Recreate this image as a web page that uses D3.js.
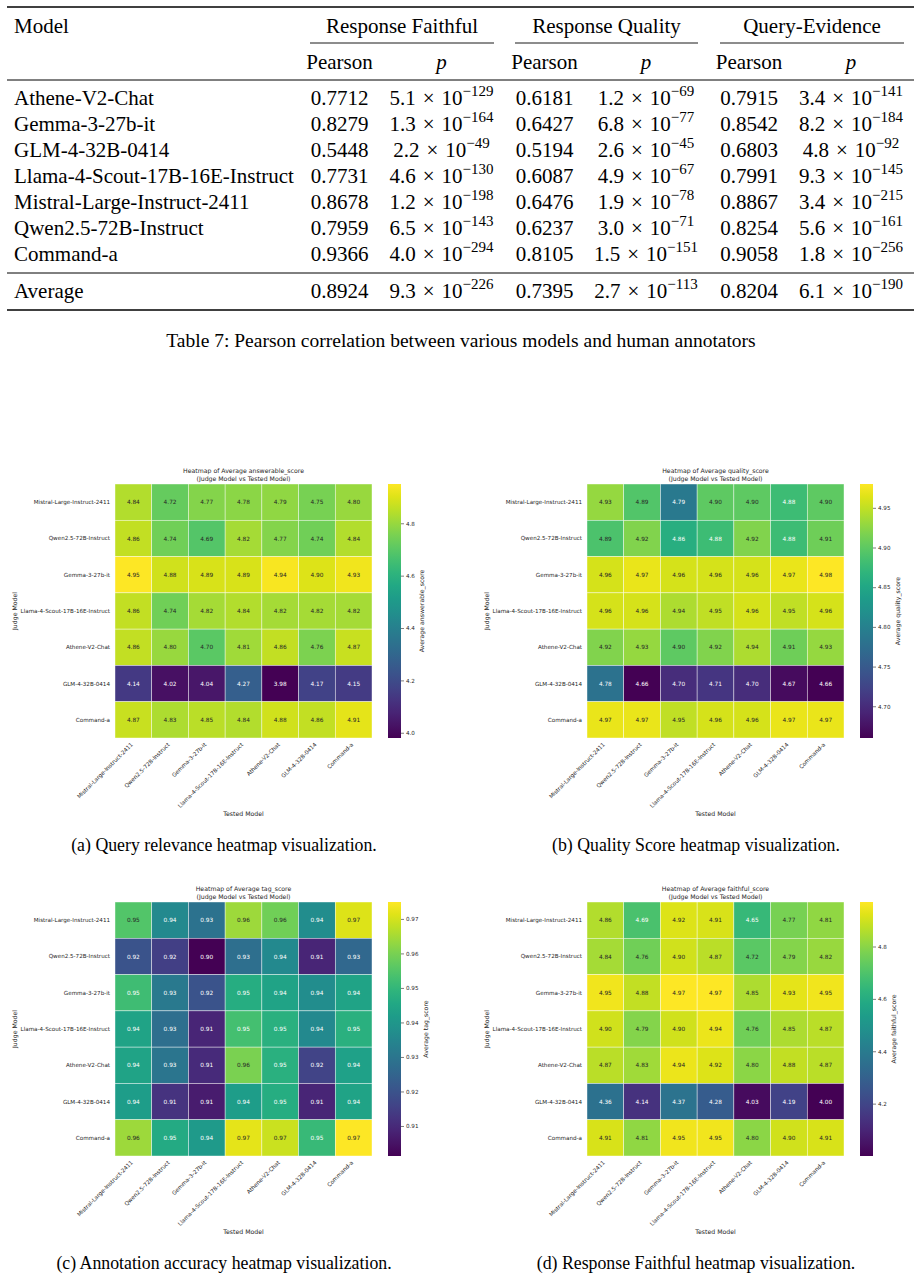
<!DOCTYPE html>
<html>
<head>
<meta charset="utf-8">
<script src="https://cdn.jsdelivr.net/npm/d3@7"></script>
<style>
body { margin: 0; background: #fff; }
svg { display: block; }
</style>
</head>
<body>
<div id="page"></div>
<script>
// ---- table data ----
var tableModels = ['Athene-V2-Chat', 'Gemma-3-27b-it', 'GLM-4-32B-0414', 'Llama-4-Scout-17B-16E-Instruct',
    'Mistral-Large-Instruct-2411', 'Qwen2.5-72B-Instruct', 'Command-a', 'Average'];
var groupNames = ['Response Faithful', 'Response Quality', 'Query-Evidence'];
var faithfulPearson = ['0.7712', '0.8279', '0.5448', '0.7731', '0.8678', '0.7959', '0.9366', '0.8924'];
var faithfulP = ['5.1e-129', '1.3e-164', '2.2e-49', '4.6e-130', '1.2e-198', '6.5e-143', '4.0e-294', '9.3e-226'];
var qualityPearson = ['0.6181', '0.6427', '0.5194', '0.6087', '0.6476', '0.6237', '0.8105', '0.7395'];
var qualityP = ['1.2e-69', '6.8e-77', '2.6e-45', '4.9e-67', '1.9e-78', '3.0e-71', '1.5e-151', '2.7e-113'];
var evidencePearson = ['0.7915', '0.8542', '0.6803', '0.7991', '0.8867', '0.8254', '0.9058', '0.8204'];
var evidenceP = ['3.4e-141', '8.2e-184', '4.8e-92', '9.3e-145', '3.4e-215', '5.6e-161', '1.8e-256', '6.1e-190'];

// ---- heatmap data (rows = judge model, columns = tested model) ----
var judgeModels = ['Mistral-Large-Instruct-2411', 'Qwen2.5-72B-Instruct', 'Gemma-3-27b-it',
    'Llama-4-Scout-17B-16E-Instruct', 'Athene-V2-Chat', 'GLM-4-32B-0414', 'Command-a'];
var testedModels = ['Mistral-Large-Instruct-2411', 'Qwen2.5-72B-Instruct', 'Gemma-3-27b-it',
    'Llama-4-Scout-17B-16E-Instruct', 'Athene-V2-Chat', 'GLM-4-32B-0414', 'Command-a'];

var answerableScore = [
    [4.84, 4.72, 4.77, 4.78, 4.79, 4.75, 4.80],
    [4.86, 4.74, 4.69, 4.82, 4.77, 4.74, 4.84],
    [4.95, 4.88, 4.89, 4.89, 4.94, 4.90, 4.93],
    [4.86, 4.74, 4.82, 4.84, 4.82, 4.82, 4.82],
    [4.86, 4.80, 4.70, 4.81, 4.86, 4.76, 4.87],
    [4.14, 4.02, 4.04, 4.27, 3.98, 4.17, 4.15],
    [4.87, 4.83, 4.85, 4.84, 4.88, 4.86, 4.91]
];
var qualityScore = [
    [4.93, 4.893, 4.79, 4.90, 4.90, 4.88, 4.90],
    [4.89, 4.92, 4.86, 4.88, 4.92, 4.88, 4.91],
    [4.96, 4.97, 4.96, 4.96, 4.96, 4.97, 4.98],
    [4.96, 4.96, 4.94, 4.95, 4.96, 4.95, 4.96],
    [4.92, 4.93, 4.90, 4.92, 4.94, 4.91, 4.93],
    [4.78, 4.66, 4.70, 4.71, 4.70, 4.67, 4.66],
    [4.97, 4.97, 4.95, 4.96, 4.96, 4.97, 4.97]
];
var tagScore = [
    [0.955, 0.936, 0.929, 0.964, 0.959, 0.937, 0.971],
    [0.920, 0.915, 0.9013, 0.928, 0.936, 0.909, 0.926],
    [0.952, 0.931, 0.920, 0.947, 0.944, 0.937, 0.944],
    [0.944, 0.928, 0.909, 0.953, 0.948, 0.936, 0.948],
    [0.944, 0.930, 0.910, 0.960, 0.948, 0.916, 0.943],
    [0.942, 0.912, 0.907, 0.942, 0.947, 0.909, 0.944],
    [0.964, 0.946, 0.941, 0.972, 0.969, 0.951, 0.9749]
];
var faithfulScore = [
    [4.86, 4.69, 4.92, 4.91, 4.65, 4.77, 4.81],
    [4.84, 4.76, 4.90, 4.87, 4.72, 4.79, 4.82],
    [4.95, 4.88, 4.97, 4.97, 4.85, 4.93, 4.95],
    [4.90, 4.79, 4.90, 4.94, 4.76, 4.85, 4.87],
    [4.87, 4.83, 4.94, 4.92, 4.80, 4.88, 4.87],
    [4.36, 4.14, 4.37, 4.28, 4.03, 4.19, 4.00],
    [4.91, 4.81, 4.95, 4.95, 4.80, 4.90, 4.91]
];

var answerableTicks = [4.0, 4.2, 4.4, 4.6, 4.8];
var qualityTicks = [4.70, 4.75, 4.80, 4.85, 4.90, 4.95];
var tagTicks = [0.91, 0.92, 0.93, 0.94, 0.95, 0.96, 0.97];
var faithfulTicks = [4.2, 4.4, 4.6, 4.8];

var serif = '"Liberation Serif", "Times New Roman", serif';
var sans = '"DejaVu Sans", sans-serif';
var ink = '#262626';

var svg = d3.select('#page').append('svg')
    .attr('width', 921)
    .attr('height', 1279);
var defs = svg.append('defs');

// ================= table =================
var tbl = svg.append('g').attr('font-family', serif).attr('fill', '#000');

function rule(y, w) {
    tbl.append('line').attr('x1', 7).attr('x2', 914).attr('y1', y).attr('y2', y)
        .attr('stroke', '#000').attr('stroke-width', w);
}
rule(7, 1.6);
rule(80, 1);
rule(273, 1);
rule(310, 1.6);

var groups = [
    {name: groupNames[0], pearson: faithfulPearson, p: faithfulP, lo: 310, hi: 494, pc: 339.5, vc: 441.5},
    {name: groupNames[1], pearson: qualityPearson, p: qualityP, lo: 515, hi: 698, pc: 544.5, vc: 646},
    {name: groupNames[2], pearson: evidencePearson, p: evidenceP, lo: 720, hi: 904, pc: 749, vc: 851}
];

tbl.append('text').attr('x', 14).attr('y', 33).attr('font-size', 21).text('Model');

var rowY = d3.scalePoint().domain(tableModels.slice(0, 7)).range([105, 261]);
function yOf(d, i) { return i < 7 ? rowY(d) : 298; }

tbl.selectAll('text.model').data(tableModels).enter().append('text')
    .attr('class', 'model')
    .attr('x', 14)
    .attr('y', yOf)
    .attr('font-size', 21)
    .text(function (d) { return d; });

groups.forEach(function (grp) {
    tbl.append('text').attr('x', (grp.lo + grp.hi) / 2).attr('y', 33)
        .attr('text-anchor', 'middle').attr('font-size', 21).text(grp.name);
    tbl.append('line').attr('x1', grp.lo).attr('x2', grp.hi).attr('y1', 43).attr('y2', 43)
        .attr('stroke', '#000').attr('stroke-width', 0.9);
    tbl.append('text').attr('x', grp.pc).attr('y', 69)
        .attr('text-anchor', 'middle').attr('font-size', 21).text('Pearson');
    tbl.append('text').attr('x', grp.vc).attr('y', 69)
        .attr('text-anchor', 'middle').attr('font-size', 21).attr('font-style', 'italic').text('p');

    tbl.selectAll(null).data(grp.pearson).enter().append('text')
        .attr('x', grp.pc)
        .attr('y', function (d, i) { return yOf(tableModels[i], i); })
        .attr('text-anchor', 'middle')
        .attr('font-size', 21)
        .text(function (d) { return d; });

    var pt = tbl.selectAll(null).data(grp.p).enter().append('text')
        .attr('x', grp.vc)
        .attr('y', function (d, i) { return yOf(tableModels[i], i); })
        .attr('text-anchor', 'middle')
        .attr('font-size', 21);
    pt.append('tspan').text(function (d) { return d.split('e')[0] + '\u2004\u00d7\u200410'; });
    pt.append('tspan').attr('dy', -9).attr('font-size', 15)
        .text(function (d) { return '\u2212' + d.split('e-')[1]; });
});

svg.append('text')
    .attr('x', 461).attr('y', 347)
    .attr('text-anchor', 'middle')
    .attr('font-family', serif)
    .attr('font-size', 19.5)
    .text('Table 7: Pearson correlation between various models and human annotators');

// ================= heatmaps =================
function luminance(c) {
    var r = d3.rgb(c);
    var v = [r.r, r.g, r.b].map(function (k) {
        k /= 255;
        return k <= 0.03928 ? k / 12.92 : Math.pow((k + 0.055) / 1.055, 2.4);
    });
    return 0.2126 * v[0] + 0.7152 * v[1] + 0.0722 * v[2];
}

function drawHeatmap(cfg) {
    var w = 257, h = 254;
    var g = svg.append('g').attr('font-family', sans).attr('fill', ink);

    var x = d3.scaleBand().domain(testedModels).range([cfg.left, cfg.left + w]);
    var y = d3.scaleBand().domain(judgeModels).range([cfg.top, cfg.top + h]);
    var color = d3.scaleSequential(d3.interpolateViridis)
        .domain(d3.extent(d3.merge(cfg.values)));

    var cells = [];
    cfg.values.forEach(function (row, i) {
        row.forEach(function (v, j) {
            cells.push({judge: judgeModels[i], tested: testedModels[j], v: v});
        });
    });

    g.selectAll('rect.cell').data(cells).enter().append('rect')
        .attr('class', 'cell')
        .attr('x', function (d) { return x(d.tested); })
        .attr('y', function (d) { return y(d.judge); })
        .attr('width', x.bandwidth())
        .attr('height', y.bandwidth())
        .attr('fill', function (d) { return color(d.v); })
        .attr('stroke', 'rgba(255,255,255,0.7)')
        .attr('stroke-width', 0.6);

    g.selectAll('text.annot').data(cells).enter().append('text')
        .attr('class', 'annot')
        .attr('x', function (d) { return x(d.tested) + x.bandwidth() / 2; })
        .attr('y', function (d) { return y(d.judge) + y.bandwidth() / 2; })
        .attr('dy', '0.36em')
        .attr('text-anchor', 'middle')
        .attr('font-size', 5.8)
        .attr('fill', function (d) { return luminance(color(d.v)) > 0.408 ? ink : '#fff'; })
        .text(function (d) { return d3.format('.2f')(d.v); });

    // judge model labels
    g.selectAll('text.ylab').data(judgeModels).enter().append('text')
        .attr('class', 'ylab')
        .attr('x', cfg.left - 5)
        .attr('y', function (d) { return y(d) + y.bandwidth() / 2; })
        .attr('dy', '0.35em')
        .attr('text-anchor', 'end')
        .attr('font-size', 5.6)
        .text(function (d) { return d; });

    // tested model labels
    g.selectAll('text.xlab').data(testedModels).enter().append('text')
        .attr('class', 'xlab')
        .attr('transform', function (d) {
            return 'translate(' + (x(d) + x.bandwidth() / 2 - 3) + ',' + (cfg.top + h + 4) + ') rotate(-45)';
        })
        .attr('dy', '0.75em')
        .attr('text-anchor', 'end')
        .attr('font-size', 5.6)
        .text(function (d) { return d; });

    var cx = cfg.left + w / 2;
    g.append('text').attr('x', cx).attr('y', cfg.top - 13).attr('dy', '0.35em')
        .attr('text-anchor', 'middle').attr('font-size', 6.2).text(cfg.title);
    g.append('text').attr('x', cx).attr('y', cfg.top - 5).attr('dy', '0.35em')
        .attr('text-anchor', 'middle').attr('font-size', 6.2).text('(Judge Model vs Tested Model)');
    g.append('text').attr('x', cx).attr('y', cfg.top + h + 76).attr('dy', '0.35em')
        .attr('text-anchor', 'middle').attr('font-size', 6.2).text('Tested Model');
    g.append('text')
        .attr('transform', 'translate(' + (cfg.left - 100) + ',' + (cfg.top + h / 2) + ') rotate(-90)')
        .attr('dy', '0.35em')
        .attr('text-anchor', 'middle').attr('font-size', 6.2).text('Judge Model');

    // colorbar
    var cbx = cfg.left + w + 16, cbw = 13;
    var grad = defs.append('linearGradient').attr('id', cfg.id)
        .attr('x1', 0).attr('y1', 1).attr('x2', 0).attr('y2', 0);
    grad.selectAll('stop').data(d3.range(0, 1.0001, 0.05)).enter().append('stop')
        .attr('offset', function (t) { return t; })
        .attr('stop-color', function (t) { return d3.interpolateViridis(t); });
    g.append('rect').attr('x', cbx).attr('y', cfg.top).attr('width', cbw).attr('height', h)
        .attr('fill', 'url(#' + cfg.id + ')');

    var cs = d3.scaleLinear().domain(color.domain()).range([cfg.top + h, cfg.top]);
    var ax = g.append('g')
        .attr('transform', 'translate(' + (cbx + cbw) + ',0)')
        .call(d3.axisRight(cs).tickValues(cfg.ticks).tickFormat(d3.format(cfg.fmt)).tickSize(3).tickPadding(2));
    ax.attr('font-family', sans).attr('font-size', 5.6);
    ax.select('.domain').remove();
    ax.selectAll('line').attr('stroke', ink).attr('stroke-width', 0.6);
    ax.selectAll('text').attr('fill', ink);

    // label sits just past the widest tick label, like matplotlib
    var maxW = d3.max(ax.selectAll('text').nodes(), function (n) { return n.getComputedTextLength(); });
    g.append('text')
        .attr('transform', 'translate(' + (cbx + cbw + 5 + maxW + 7) + ',' + (cfg.top + h / 2) + ') rotate(-90)')
        .attr('dy', '0.35em')
        .attr('text-anchor', 'middle').attr('font-size', 6.2).text(cfg.label);

    svg.append('text')
        .attr('x', cfg.capX).attr('y', cfg.top + h + 113)
        .attr('text-anchor', 'middle')
        .attr('font-family', serif)
        .attr('font-size', 17.8)
        .text(cfg.caption);
}

drawHeatmap({id: 'cbA', left: 115, top: 484, values: answerableScore, ticks: answerableTicks, fmt: '.1f',
    title: 'Heatmap of Average answerable_score', label: 'Average answerable_score',
    capX: 224, caption: '(a) Query relevance heatmap visualization.'});
drawHeatmap({id: 'cbB', left: 587, top: 484, values: qualityScore, ticks: qualityTicks, fmt: '.2f',
    title: 'Heatmap of Average quality_score', label: 'Average quality_score',
    capX: 696, caption: '(b) Quality Score heatmap visualization.'});
drawHeatmap({id: 'cbC', left: 115, top: 902, values: tagScore, ticks: tagTicks, fmt: '.2f',
    title: 'Heatmap of Average tag_score', label: 'Average tag_score',
    capX: 224, caption: '(c) Annotation accuracy heatmap visualization.'});
drawHeatmap({id: 'cbD', left: 587, top: 902, values: faithfulScore, ticks: faithfulTicks, fmt: '.1f',
    title: 'Heatmap of Average faithful_score', label: 'Average faithful_score',
    capX: 696, caption: '(d) Response Faithful heatmap visualization.'});
</script>
</body>
</html>
